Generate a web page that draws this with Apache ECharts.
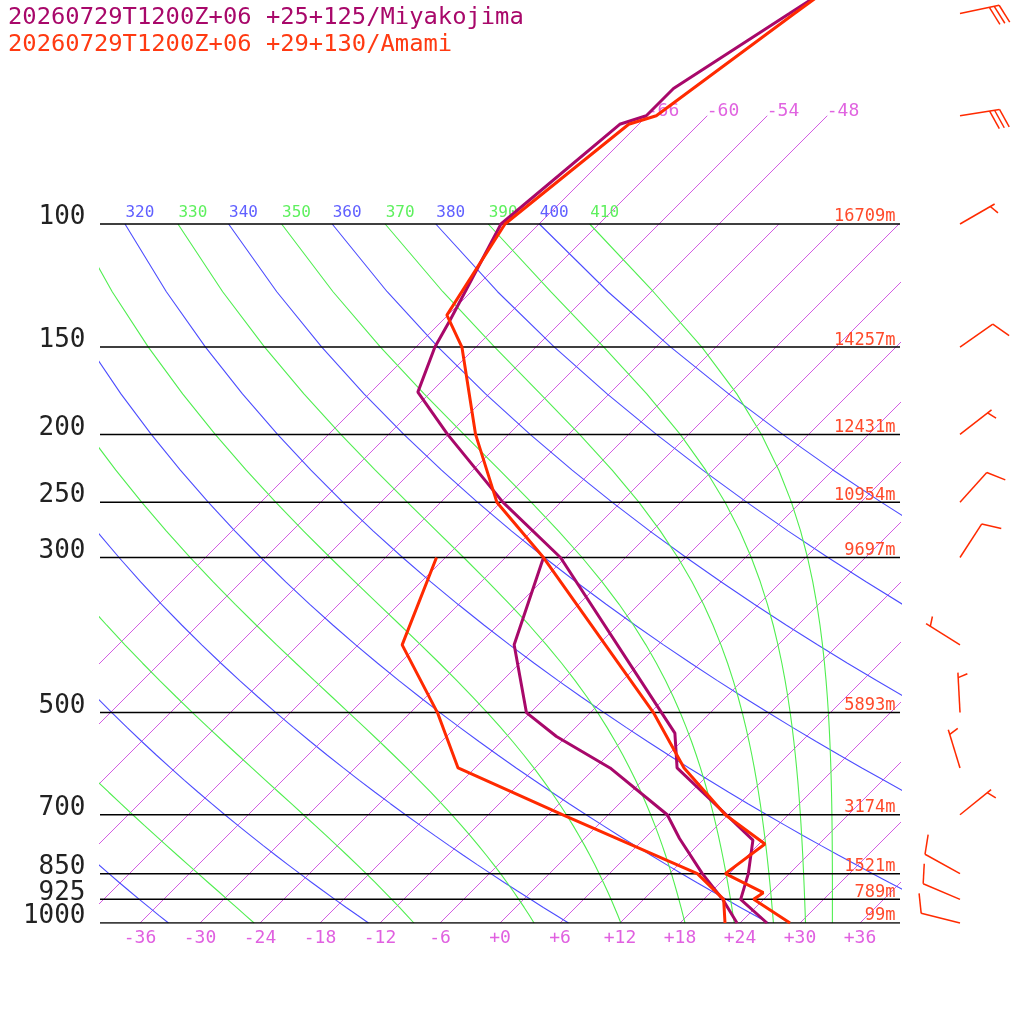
<!DOCTYPE html>
<html>
<head>
<meta charset="utf-8">
<title>Skew-T</title>
<style>
html, body { margin: 0; padding: 0; background: #fff; }
#main { width: 1024px; height: 1024px; }
</style>
</head>
<body>
<div id="main"></div>
<script src="https://cdn.jsdelivr.net/npm/echarts@6/dist/echarts.min.js"></script>
<script>
// standard levels and their heights (Amami)
var pressLevels = [1000, 925, 850, 700, 500, 300, 250, 200, 150, 100];
var heightLabels = ['99m', '789m', '1521m', '3174m', '5893m', '9697m', '10954m', '12431m', '14257m', '16709m'];
var xTicks = [-36, -30, -24, -18, -12, -6, 0, 6, 12, 18, 24, 30, 36];

// background lines
var isotherms = [-66, -60, -54, -48, -42, -36, -30, -24, -18, -12, -6, 0, 6, 12, 18, 24, 30, 36];
var isoLabelled = [-66, -60, -54, -48];
var dryTheta = [240, 260, 280, 300, 320, 340, 360, 380, 400];
var moistThetaE = [250, 270, 290, 310, 330, 350, 370, 390, 410];

// Miyakojima (purple)
var miyaP = [1000, 925, 850, 761, 700, 600, 535, 300, 250, 200, 174, 150, 137, 100, 72, 70, 64, 50, 40];
var miyaT = [26.7, 21.7, 19.9, 17.0, 11.8, 2.2, -1.5, -30.5, -41.8, -54.1, -61.3, -64.1, -65.3, -69.8, -67.9, -66.1, -66.1, -62.0, -58.3];
var miyaTdP = [1000, 925, 850, 757, 700, 600, 541, 500, 400, 300];
var miyaTd = [23.7, 19.9, 15.3, 9.5, 5.9, -4.5, -13.0, -18.4, -26.4, -32.2];

// Amami (red)
var amamiP = [1000, 925, 905, 850, 771, 700, 600, 500, 300, 250, 200, 150, 135, 100, 72, 70, 50, 40];
var amamiT = [29.0, 23.0, 23.3, 17.6, 18.6, 11.7, 2.9, -5.7, -32.2, -42.4, -51.3, -61.4, -66.1, -69.4, -67.0, -65.1, -61.5, -59.0];
var amamiTdP = [1000, 925, 850, 700, 600, 500, 400, 300];
var amamiTd = [22.5, 20.0, 14.8, -4.6, -19.7, -27.3, -37.6, -42.9];

// Amami winds (deg, kt)
var windP = [50, 70, 100, 150, 200, 250, 300, 400, 500, 600, 700, 850, 925, 1000];
var windDir = [78, 81, 60, 55, 52, 42, 33, 302, 357, 343, 51, 299, 293, 284];
var windSpd = [30, 30, 5, 10, 5, 10, 10, 5, 5, 5, 5, 10, 10, 10];

var MONO = 'DejaVu Sans Mono';
var PURPLE = '#a8086a';
var RED = '#ff2a00';
var SKEW = 69.9;           // degrees of shift per decade of pressure
var Y_TOP = 2 - 224 / 699; // log10 of the pressure at the top edge

function lp(p) { return Math.log10(p); }
function skewX(t, p) { return t + SKEW * Math.log10(1000 / p); }

function profile(ps, ts) {
  return ps.map(function (p, i) { return [skewX(ts[i], p), lp(p)]; });
}

// pressures for the curved lines
var curveP = [];
for (var p = 1000; p >= 100; p -= 25) curveP.push(p);

// Bolton theta-e of saturated air
function thetaESat(tc, p) {
  var es = 6.112 * Math.exp(17.67 * tc / (tc + 243.5));
  if (es > p * 0.6) return 1e9;
  var r = 622 * es / (p - es);
  var tk = tc + 273.15;
  return tk * Math.pow(1000 / p, 0.2854 * (1 - 0.00028 * r)) *
    Math.exp((3.376 / tk - 0.00254) * r * (1 + 0.00081 * r));
}
function moistT(the, p) {
  var lo = -150, hi = 60;
  for (var k = 0; k < 60; k++) {
    var mid = (lo + hi) / 2;
    if (thetaESat(mid, p) > the) hi = mid; else lo = mid;
  }
  return (lo + hi) / 2;
}

var isoData = [];
isotherms.forEach(function (t) {
  var top = t <= -48 ? 70 : 100;
  isoData.push([skewX(t, 1000), lp(1000)], [skewX(t, top), lp(top)], '-');
});
var dryData = [];
dryTheta.forEach(function (th) {
  curveP.forEach(function (p) {
    dryData.push([skewX(th * Math.pow(p / 1000, 0.2857) - 273.15, p), lp(p)]);
  });
  dryData.push('-');
});
var moistData = [];
moistThetaE.forEach(function (th) {
  curveP.forEach(function (p) { moistData.push([skewX(moistT(th, p), p), lp(p)]); });
  moistData.push('-');
});
var pLineData = [];
pressLevels.forEach(function (p) { pLineData.push([-40, lp(p)], [40, lp(p)], '-'); });

var pressPts = pressLevels.map(function (p) { return { value: [-40, lp(p)], name: String(p) }; });
var heightPts = pressLevels.map(function (p, i) { return { value: [39.6, lp(p)], name: heightLabels[i] }; });
var isoLabelPts = isoLabelled.map(function (t) { return { value: [skewX(t, 70), lp(70)], name: String(t) }; });
var thetaLabelPts = [];
dryTheta.concat(moistThetaE).forEach(function (th) {
  var dry = dryTheta.indexOf(th) >= 0;
  var t100 = dry ? th * Math.pow(0.1, 0.2857) - 273.15 : moistT(th, 100);
  thetaLabelPts.push({ value: [skewX(t100, 100), lp(100)], name: String(th),
    label: { color: dry ? '#6060ff' : '#5ef05e' } });
});
var windData = windP.map(function (p, i) { return [0.5, lp(p), windDir[i], windSpd[i]]; });

function renderBarb(params, api) {
  var pt = api.coord([api.value(0), api.value(1)]);
  var d = api.value(2) * Math.PI / 180;
  var spd = Math.round(api.value(3) / 5) * 5;
  var ux = Math.sin(d), uy = -Math.cos(d);
  var tip = [pt[0] + ux * 40, pt[1] + uy * 40];
  var a = 70 * Math.PI / 180;
  var bx = ux * Math.cos(a) - uy * Math.sin(a);
  var by = ux * Math.sin(a) + uy * Math.cos(a);
  var st = { stroke: RED, lineWidth: 1.5 };
  var kids = [{ type: 'line', shape: { x1: pt[0], y1: pt[1], x2: tip[0], y2: tip[1] }, style: st }];
  var full = Math.floor(spd / 10), half = spd % 10 >= 5;
  var pos = full === 0 ? 5 : 0;
  for (var i = 0; i < full; i++) {
    var sx = tip[0] - ux * pos, sy = tip[1] - uy * pos;
    kids.push({ type: 'line', shape: { x1: sx, y1: sy, x2: sx + bx * 20, y2: sy + by * 20 }, style: st });
    pos += 5;
  }
  if (half) {
    var hx = tip[0] - ux * pos, hy = tip[1] - uy * pos;
    kids.push({ type: 'line', shape: { x1: hx, y1: hy, x2: hx + bx * 10, y2: hy + by * 10 }, style: st });
  }
  return { type: 'group', children: kids };
}

function bgLine(data, color, w) {
  return { type: 'line', data: data, showSymbol: false, symbol: 'none', connectNulls: false,
    silent: true, lineStyle: { color: color, width: w }, z: 1 };
}
function trace(data, color) {
  return { type: 'line', data: data, symbol: 'none', lineStyle: { color: color, width: 3 }, z: 5 };
}
function labelSeries(data, label) {
  return { type: 'scatter', data: data, symbolSize: 1, itemStyle: { color: 'rgba(0,0,0,0)', opacity: 1 },
    silent: true, clip: false, z: 3, label: Object.assign({ show: true, formatter: '{b}', fontFamily: MONO }, label) };
}

var option = {
  animation: false,
  backgroundColor: '#fff',
  title: {
    text: '20260729T1200Z+06 +25+125/Miyakojima',
    subtext: '20260729T1200Z+06 +29+130/Amami',
    left: 8, top: 6, padding: 0, itemGap: 3,
    textStyle: { fontFamily: MONO, fontSize: 23.8, fontWeight: 'normal', color: PURPLE },
    subtextStyle: { fontFamily: MONO, fontSize: 23.8, color: '#ff3a12' }
  },
  grid: [
    { left: 100, right: 124, top: 0, bottom: 101 },
    { left: 940, width: 40, top: 0, bottom: 101 }
  ],
  xAxis: [{
    type: 'value', min: -40, max: 40,
    axisLine: { show: false }, axisTick: { show: false }, splitLine: { show: false },
    axisLabel: {
      customValues: xTicks, margin: 6, fontFamily: MONO, fontSize: 18, color: '#e060e0',
      formatter: function (v) { return (v >= 0 ? '+' : '') + v; }
    }
  }, {
    gridIndex: 1, type: 'value', min: 0, max: 1, show: false
  }],
  yAxis: [{
    type: 'value', inverse: true, min: Y_TOP, max: 3,
    axisLine: { show: false }, axisTick: { show: false }, splitLine: { show: false },
    axisLabel: { show: false }
  }, {
    gridIndex: 1, type: 'value', inverse: true, min: Y_TOP, max: 3, show: false
  }],
  series: [
    bgLine(isoData, '#d35ce3', 1),
    bgLine(dryData, '#4d4dff', 1.1),
    bgLine(moistData, '#50ee50', 1.1),
    bgLine(pLineData, '#000', 1.5),
    labelSeries(pressPts, { position: [-14, 0], align: 'right', verticalAlign: 'bottom', lineHeight: 12, fontSize: 26, color: '#222' }),
    labelSeries(heightPts, { position: [0, 2], align: 'right', verticalAlign: 'bottom', fontSize: 17, color: '#ff4a2a' }),
    labelSeries(isoLabelPts, { position: [0, 5], align: 'left', verticalAlign: 'bottom', fontSize: 18, color: '#e064e0' }),
    Object.assign(labelSeries(thetaLabelPts, { position: [1, -3], align: 'left', verticalAlign: 'bottom', fontSize: 16 }), { clip: true }),
    trace(profile(miyaTdP, miyaTd), PURPLE),
    trace(profile(miyaP, miyaT), PURPLE),
    trace(profile(amamiTdP, amamiTd), RED),
    trace(profile(amamiP, amamiT), RED),
    { type: 'custom', xAxisIndex: 1, yAxisIndex: 1, data: windData, renderItem: renderBarb, clip: false, silent: true, z: 5 }
  ]
};

var myChart = echarts.init(document.getElementById('main'));
myChart.setOption(option);
</script>
</body>
</html>
